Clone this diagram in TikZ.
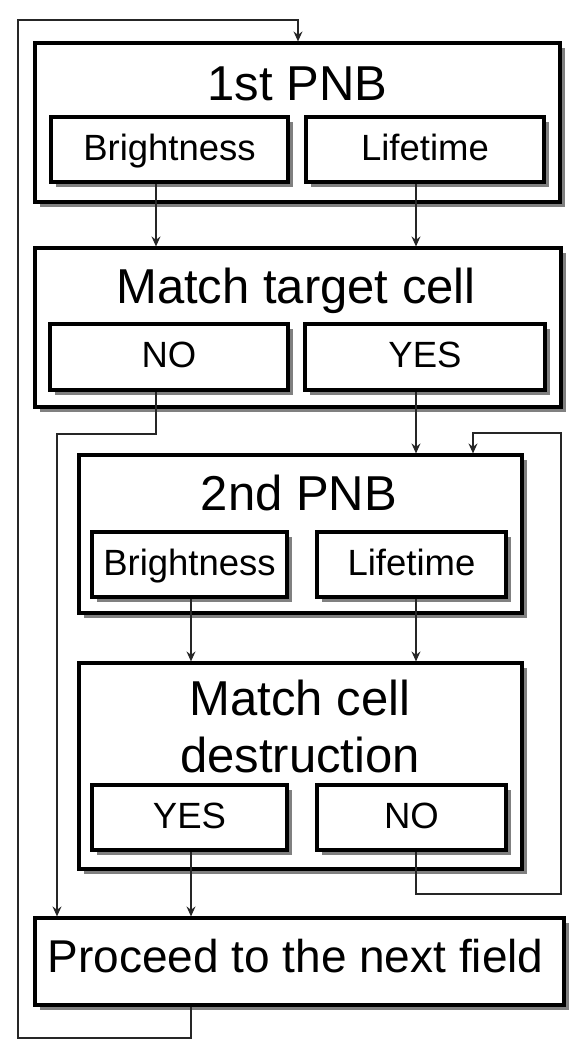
\documentclass[tikz,border=0pt]{standalone}
\usepackage{fontspec}
\setmainfont{Liberation Sans}
\usetikzlibrary{arrows.meta,shadows}
\begin{document}
\begin{tikzpicture}[x=1pt,y=-1pt,
  box/.style={draw=black, line width=3.2pt, fill=white, inner sep=0pt,
    general shadow={fill=black!50, shadow xshift=4.5pt, shadow yshift=-4.5pt}},
  sub/.style={box, minimum height=65pt, text height=26pt, text depth=5pt,
    font=\fontsize{36.5}{40}\selectfont},
  title/.style={anchor=base, inner sep=0pt, font=\fontsize{49}{57}\selectfont},
  conn/.style={line width=1.3pt, draw=black!85},
  arr/.style={conn, -{Stealth[length=10pt,width=9pt,inset=3.5pt]}}
]
\useasboundingbox (0,0) rectangle (578,1050);
\fill[white] (0,0) rectangle (578,1050);

% 1st PNB
\node[box, minimum width=525pt, minimum height=159pt] (B1) at (297.5,122.5) {};
\node[title] (T1) at (297.5,100) {1st PNB};
\node[sub, minimum width=237pt] (B1a) at (169.5,149.5) {Brightness};
\node[sub, minimum width=238pt] (B1b) at (425,149.5) {Lifetime};

% Match target cell
\node[box, minimum width=526pt, minimum height=159pt] (B2) at (298,327.5) {};
\node[title] (T2) at (296,303) {Match target cell};
\node[sub, minimum width=238pt, minimum height=66pt] (B2a) at (169,357) {NO};
\node[sub, minimum width=240pt, minimum height=66pt] (B2b) at (425,357) {YES};

% 2nd PNB
\node[box, minimum width=443pt, minimum height=158pt] (B3) at (300.5,534) {};
\node[title] (T3) at (299,510) {2nd PNB};
\node[sub, minimum width=195pt] (B3a) at (189.5,564.5) {Brightness};
\node[sub, minimum width=189pt] (B3b) at (411.5,564.5) {Lifetime};

% Match cell destruction
\node[box, minimum width=443pt, minimum height=206pt] (B4) at (300.5,766) {};
\node[title] (T4a) at (300,715) {Match cell};
\node[title] (T4b) at (300,772) {destruction};
\node[sub, minimum width=195pt] (B4a) at (189.5,817.5) {YES};
\node[sub, minimum width=189pt] (B4b) at (411.5,817.5) {NO};

% Proceed
\node[box, minimum width=529pt, minimum height=87pt] (B5) at (299.5,961.5) {};
\node[anchor=base, inner sep=0pt, font=\fontsize{46}{52}\selectfont] (T5) at (295.5,972) {Proceed to the next field};

% helper coordinates
\coordinate (c1) at (57,434);
\coordinate (c2) at (561,894);
\coordinate (c3) at (561,433);
\coordinate (c4) at (473,433);
\coordinate (c5) at (18,1038);
\coordinate (c6) at (18,20);
\coordinate (c7) at (298,20);

% connectors
\draw[arr] ([xshift=-13.5pt]B1a.south) -- ([xshift=-13.5pt]B1a.south |- B2.north);
\draw[arr] ([xshift=-9pt]B1b.south) -- ([xshift=-9pt]B1b.south |- B2.north);
\draw[arr] ([xshift=-13pt]B2a.south) |- (c1) -- (c1 |- B5.north);
\draw[arr] ([xshift=-9pt]B2b.south) -- ([xshift=-9pt]B2b.south |- B3.north);
\draw[arr] ([xshift=1.5pt]B3a.south) -- ([xshift=1.5pt]B3a.south |- B4.north);
\draw[arr] ([xshift=4.5pt]B3b.south) -- ([xshift=4.5pt]B3b.south |- B4.north);
\draw[arr] ([xshift=1.5pt]B4a.south) -- ([xshift=1.5pt]B4a.south |- B5.north);
\draw[arr] ([xshift=4.5pt]B4b.south) |- (c2) -- (c3) -- (c4) -- (c4 |- B3.north);
\draw[arr] ([xshift=-108.5pt]B5.south) |- (c5) -- (c6) -- (c7) -- (c7 |- B1.north);
\end{tikzpicture}
\end{document}
